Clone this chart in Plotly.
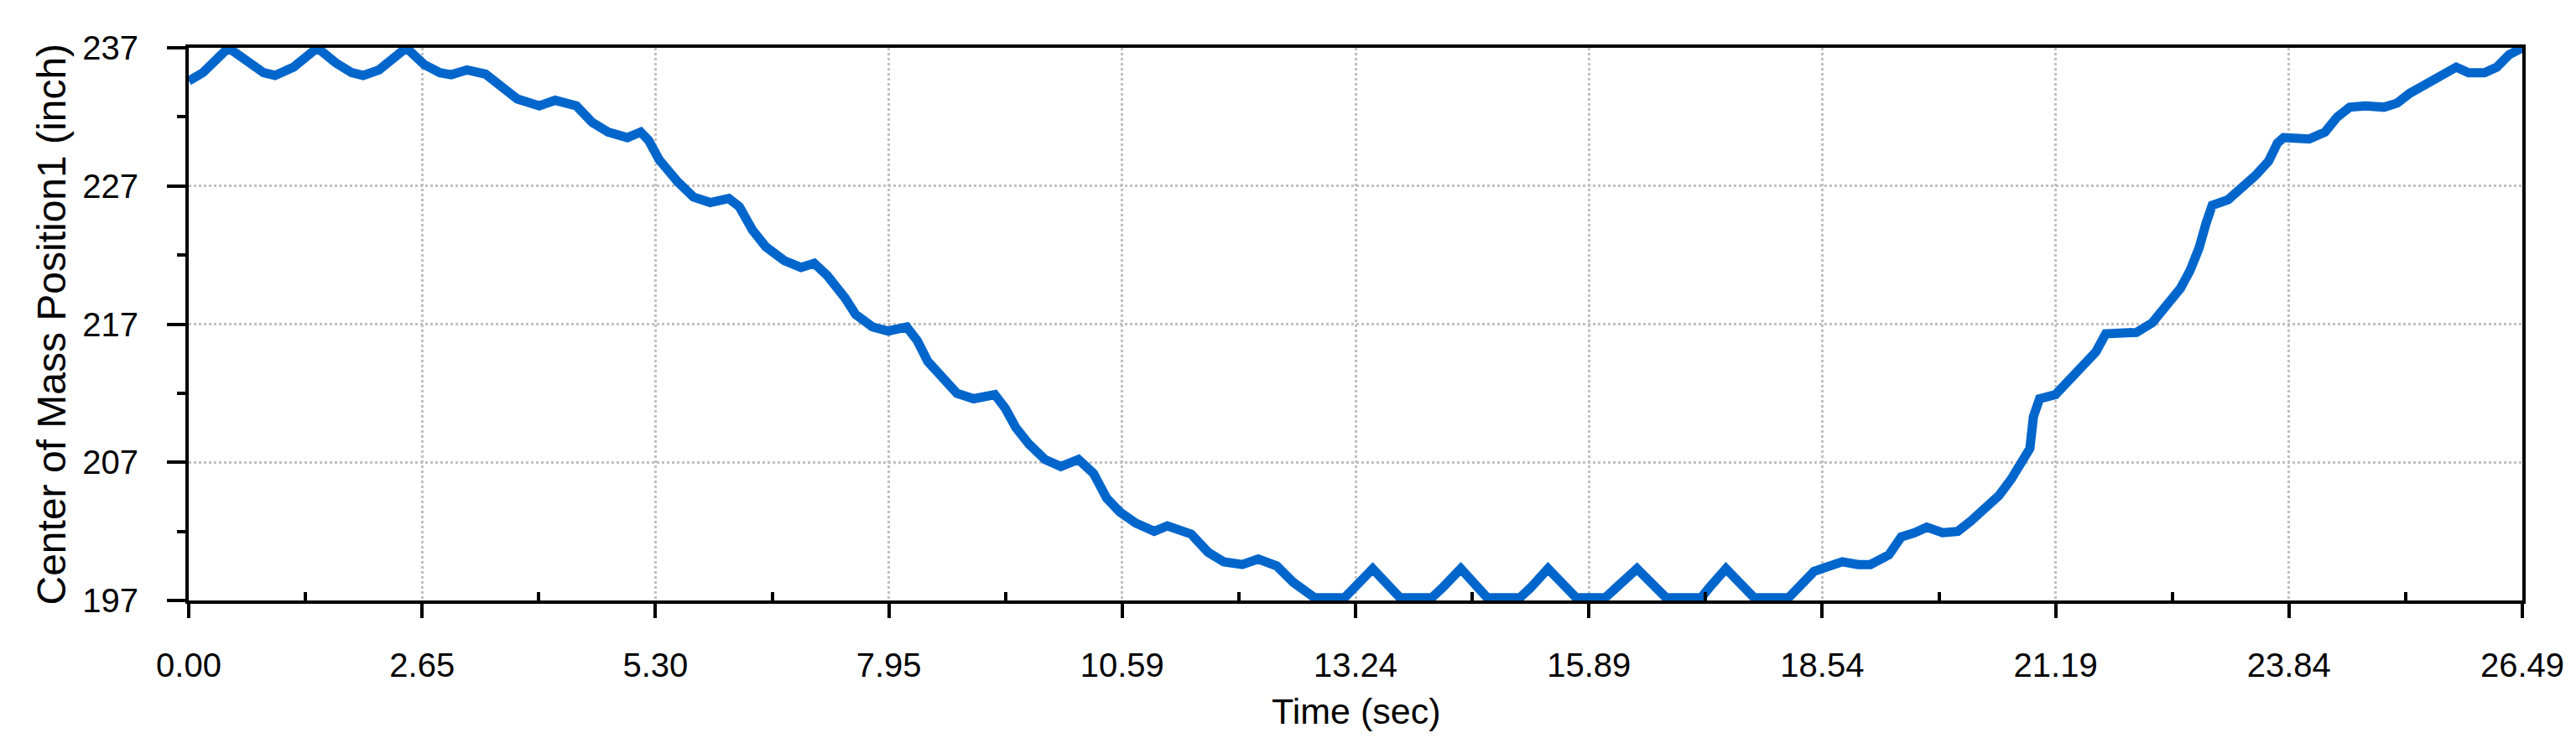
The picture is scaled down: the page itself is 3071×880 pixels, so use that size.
import plotly.graph_objects as go

# Time (sec) and Center of Mass Position1 (inch)
time_sec = [
    0.00, 0.16, 0.45, 0.64, 0.85, 0.98, 1.19, 1.46, 1.67, 1.85, 1.98, 2.16, 2.47, 2.67, 2.85,
    2.98, 3.16, 3.37, 3.61, 3.73, 3.98, 4.16, 4.40, 4.58, 4.76, 4.98, 5.13, 5.22, 5.34, 5.55,
    5.73, 5.92, 6.13, 6.25, 6.40, 6.55, 6.76, 6.95, 7.10, 7.25, 7.45, 7.57, 7.76, 7.94, 8.15,
    8.27, 8.39, 8.57, 8.72, 8.91, 9.15, 9.27, 9.39, 9.54, 9.72, 9.90, 10.10, 10.27, 10.42, 10.57,
    10.75, 10.96, 11.11, 11.38, 11.57, 11.75, 11.96, 12.14, 12.35, 12.54, 12.78, 13.12, 13.23, 13.44, 13.75,
    14.11, 14.23, 14.44, 14.74, 15.11, 15.23, 15.43, 15.75, 16.08, 16.20, 16.44, 16.77, 17.17, 17.27, 17.45,
    17.77, 18.16, 18.45, 18.59, 18.77, 18.95, 19.09, 19.30, 19.44, 19.59, 19.73, 19.91, 20.08, 20.23, 20.37,
    20.55, 20.69, 20.80, 20.90, 20.94, 21.01, 21.19, 21.33, 21.51, 21.65, 21.76, 21.93, 22.11, 22.29, 22.47,
    22.61, 22.72, 22.82, 22.90, 22.97, 23.15, 23.29, 23.46, 23.61, 23.71, 23.78, 24.07, 24.25, 24.39, 24.53,
    24.71, 24.92, 25.07, 25.21, 25.35, 25.49, 25.60, 25.74, 25.88, 26.06, 26.20, 26.34, 26.49,
]
position_inch = [
    234.6, 235.2, 237.0, 236.1, 235.2, 235.0, 235.6, 237.0, 235.9, 235.2, 235.0, 235.4, 237.0, 235.8, 235.2,
    235.05, 235.4, 235.1, 233.9, 233.3, 232.8, 233.2, 232.8, 231.6, 230.9, 230.5, 230.9, 230.3, 228.9, 227.3,
    226.2, 225.8, 226.1, 225.5, 223.8, 222.6, 221.6, 221.1, 221.4, 220.5, 218.9, 217.7, 216.8, 216.5, 216.8,
    215.8, 214.3, 213.0, 212.0, 211.6, 211.9, 210.9, 209.5, 208.3, 207.2, 206.7, 207.2, 206.2, 204.4, 203.4,
    202.6, 202.0, 202.4, 201.8, 200.5, 199.8, 199.6, 200.0, 199.5, 198.3, 197.2, 197.2, 198.0, 199.3, 197.2,
    197.2, 197.9, 199.3, 197.2, 197.2, 197.9, 199.3, 197.2, 197.2, 197.9, 199.3, 197.2, 197.2, 198.0, 199.3,
    197.2, 197.2, 199.1, 199.4, 199.8, 199.6, 199.6, 200.3, 201.6, 201.9, 202.3, 201.9, 202.0, 202.75, 203.6,
    204.6, 205.8, 207.1, 208.0, 210.3, 211.6, 211.9, 212.8, 213.9, 215.0, 216.3, 216.4, 216.4, 217.1, 218.5,
    219.6, 220.9, 222.5, 224.3, 225.6, 226.0, 226.7, 227.75, 228.8, 230.1, 230.5, 230.4, 230.9, 232.0, 232.7,
    232.8, 232.7, 233.0, 233.7, 234.2, 234.7, 235.0, 235.6, 235.2, 235.2, 235.6, 236.5, 237.0,
]

x_max = 26.49
x_tick_text = ["0.00", "2.65", "5.30", "7.95", "10.59", "13.24", "15.89", "18.54", "21.19", "23.84", "26.49"]
x_tick_vals = [i * x_max / 10 for i in range(11)]
x_minor_vals = [(i + 0.5) * x_max / 10 for i in range(10)]
y_tick_vals = [197, 207, 217, 227, 237]
y_minor_vals = [202, 212, 222, 232]

x_title = "Time (sec)"
y_title = "Center of Mass Position1 (inch)"

FONT = "Liberation Sans, Arial, sans-serif"

fig = go.Figure()
fig.add_trace(go.Scatter(
    x=time_sec, y=position_inch, mode="lines",
    line=dict(color="#0066CC", width=11),
    cliponaxis=False,
    showlegend=False, hoverinfo="skip",
))

fig.update_layout(
    width=3071, height=880, autosize=False,
    margin=dict(l=217, r=72, t=49, b=172, pad=0),
    paper_bgcolor="white", plot_bgcolor="white",
    font=dict(family=FONT, color="black", size=40),
    showlegend=False,
)

fig.update_xaxes(
    range=[0, x_max], tickmode="array", tickvals=x_tick_vals, ticktext=x_tick_text,
    showline=True, linecolor="black", linewidth=4, mirror=True,
    ticks="outside", ticklen=17, tickwidth=4, tickcolor="black",
    ticklabelstandoff=22,
    tickfont=dict(family=FONT, size=40, color="black"),
    showgrid=True, gridcolor="#C0C0C0", gridwidth=3, griddash="dot",
    zeroline=False,
    minor=dict(tickmode="array", tickvals=x_minor_vals, ticks="inside",
               ticklen=10, tickwidth=4, tickcolor="black", showgrid=False),
)
fig.update_yaxes(
    range=[197, 237], tickmode="array", tickvals=y_tick_vals,
    showline=True, linecolor="black", linewidth=4, mirror=True,
    ticks="outside", ticklen=22, tickwidth=4, tickcolor="black",
    ticklabelstandoff=26,
    tickfont=dict(family=FONT, size=40, color="black"),
    showgrid=True, gridcolor="#C0C0C0", gridwidth=3, griddash="dot",
    zeroline=False,
    minor=dict(tickmode="array", tickvals=y_minor_vals, ticks="outside",
               ticklen=10, tickwidth=4, tickcolor="black", showgrid=False),
)

fig.add_annotation(
    text=x_title, xref="paper", yref="paper", x=0.5, y=0,
    xanchor="center", yanchor="middle", yshift=-132, showarrow=False,
    font=dict(family=FONT, size=43, color="black"),
)
fig.add_annotation(
    text=y_title, xref="paper", yref="paper", x=0, y=0.5,
    xanchor="center", yanchor="middle", xshift=-164, textangle=-90, showarrow=False,
    font=dict(family=FONT, size=48, color="black"),
)

fig.write_html("out.html")
